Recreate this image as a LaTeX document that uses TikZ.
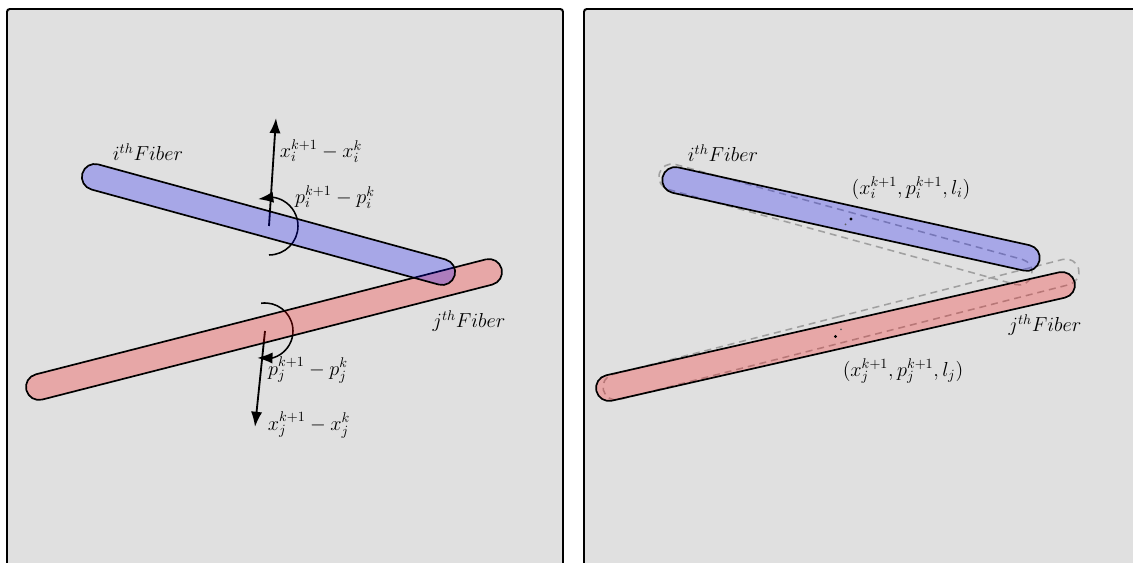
\documentclass[tikz,border=0pt]{standalone}
\usetikzlibrary{shapes.misc,arrows.meta,bending}
\definecolor{panelgray}{RGB}{224,224,224}
\definecolor{oldgray}{RGB}{160,160,160}
\begin{document}
\begin{tikzpicture}[x=0.025cm, y=0.025cm, >={Latex[length=3.8mm,width=2.8mm]},
    every node/.style={font=\fontsize{14}{17}\selectfont},
    panel/.style={draw=black, line width=1.4pt, fill=panelgray, rounded corners=2pt},
    fiber/.style={rounded rectangle, draw=black, line width=1.2pt, fill opacity=0.25, minimum height=0.65cm, inner sep=0pt},
    oldfiber/.style={rounded rectangle, draw=oldgray, dash pattern=on 5pt off 3.5pt, line width=1.1pt, minimum height=0.65cm, inner sep=0pt}]
    \useasboundingbox (0,0) rectangle (1133,563);
    \clip (0,0) rectangle (1133,563);
    
    % panels
    \draw[panel] (7,-20) rectangle (563,554);
    \draw[panel] (584,-20) rectangle (1150,554);
    
    % left: moves of the two fibers
    \coordinate (ci) at (269,337);
    \coordinate (cj) at (265,232);
    \coordinate (ti) at (276,445);
    \coordinate (tj) at (255,136);
    \draw[->, line width=1.3pt] (ci) -- (ti);
    \draw[->, line width=1.3pt] (cj) -- (tj);
    \draw[-{Latex[length=3.8mm,width=2.8mm,flex]}, line width=1.1pt] ([shift={(-90:29)}]ci) arc[start angle=-90, end angle=112, radius=29];
    \draw[-{Latex[length=3.8mm,width=2.8mm,flex]}, line width=1.1pt] ([shift={(98:28)}]cj) arc[start angle=98, end angle=-106, radius=28];
    
    \node[fiber, fill=red, minimum width=12.26cm, rotate=14.33] (fibj) at (264,233.5) {};
    \node[fiber, fill=blue, minimum width=9.65cm, rotate=-15.31] (fibi) at (268.5,338.5) {};
    
    \node (namei) at (148,411) {$i^{th}Fiber$};
    \node (namej) at (469,242) {$j^{th}Fiber$};
    \node (dxi) at (321,412) {$x_i^{k+1}-x_i^k$};
    \node (dpi) at (335,366) {$p_i^{k+1}-p_i^k$};
    \node (dpj) at (308,193) {$p_j^{k+1}-p_j^k$};
    \node (dxj) at (309,138) {$x_j^{k+1}-x_j^k$};
    
    % right: old places dashed, new places filled
    \node[oldfiber, minimum width=12.26cm, rotate=14.33] (oldj) at (841,233.5) {};
    \node[oldfiber, minimum width=9.65cm, rotate=-15.31] (oldi) at (845.5,338.5) {};
    \node[fiber, fill=red, minimum width=12.26cm, rotate=12.81] (newj) at (835.5,226.5) {};
    \node[fiber, fill=blue, minimum width=9.65cm, rotate=-12.49] (newi) at (851,344) {};
    
    \fill[oldgray!60!black] (oldi.center) circle (1);
    \fill[oldgray!60!black] (oldj.center) circle (1);
    \fill (newi.center) circle (1.6);
    \fill (newj.center) circle (1.6);
    
    \node (namei2) at (723,410) {$i^{th}Fiber$};
    \node (namej2) at (1045,238) {$j^{th}Fiber$};
    \node (newxi) at (911,375) {$(x_i^{k+1},p_i^{k+1},l_i)$};
    \node (newxj) at (903,192) {$(x_j^{k+1},p_j^{k+1},l_j)$};
\end{tikzpicture}
\end{document}
